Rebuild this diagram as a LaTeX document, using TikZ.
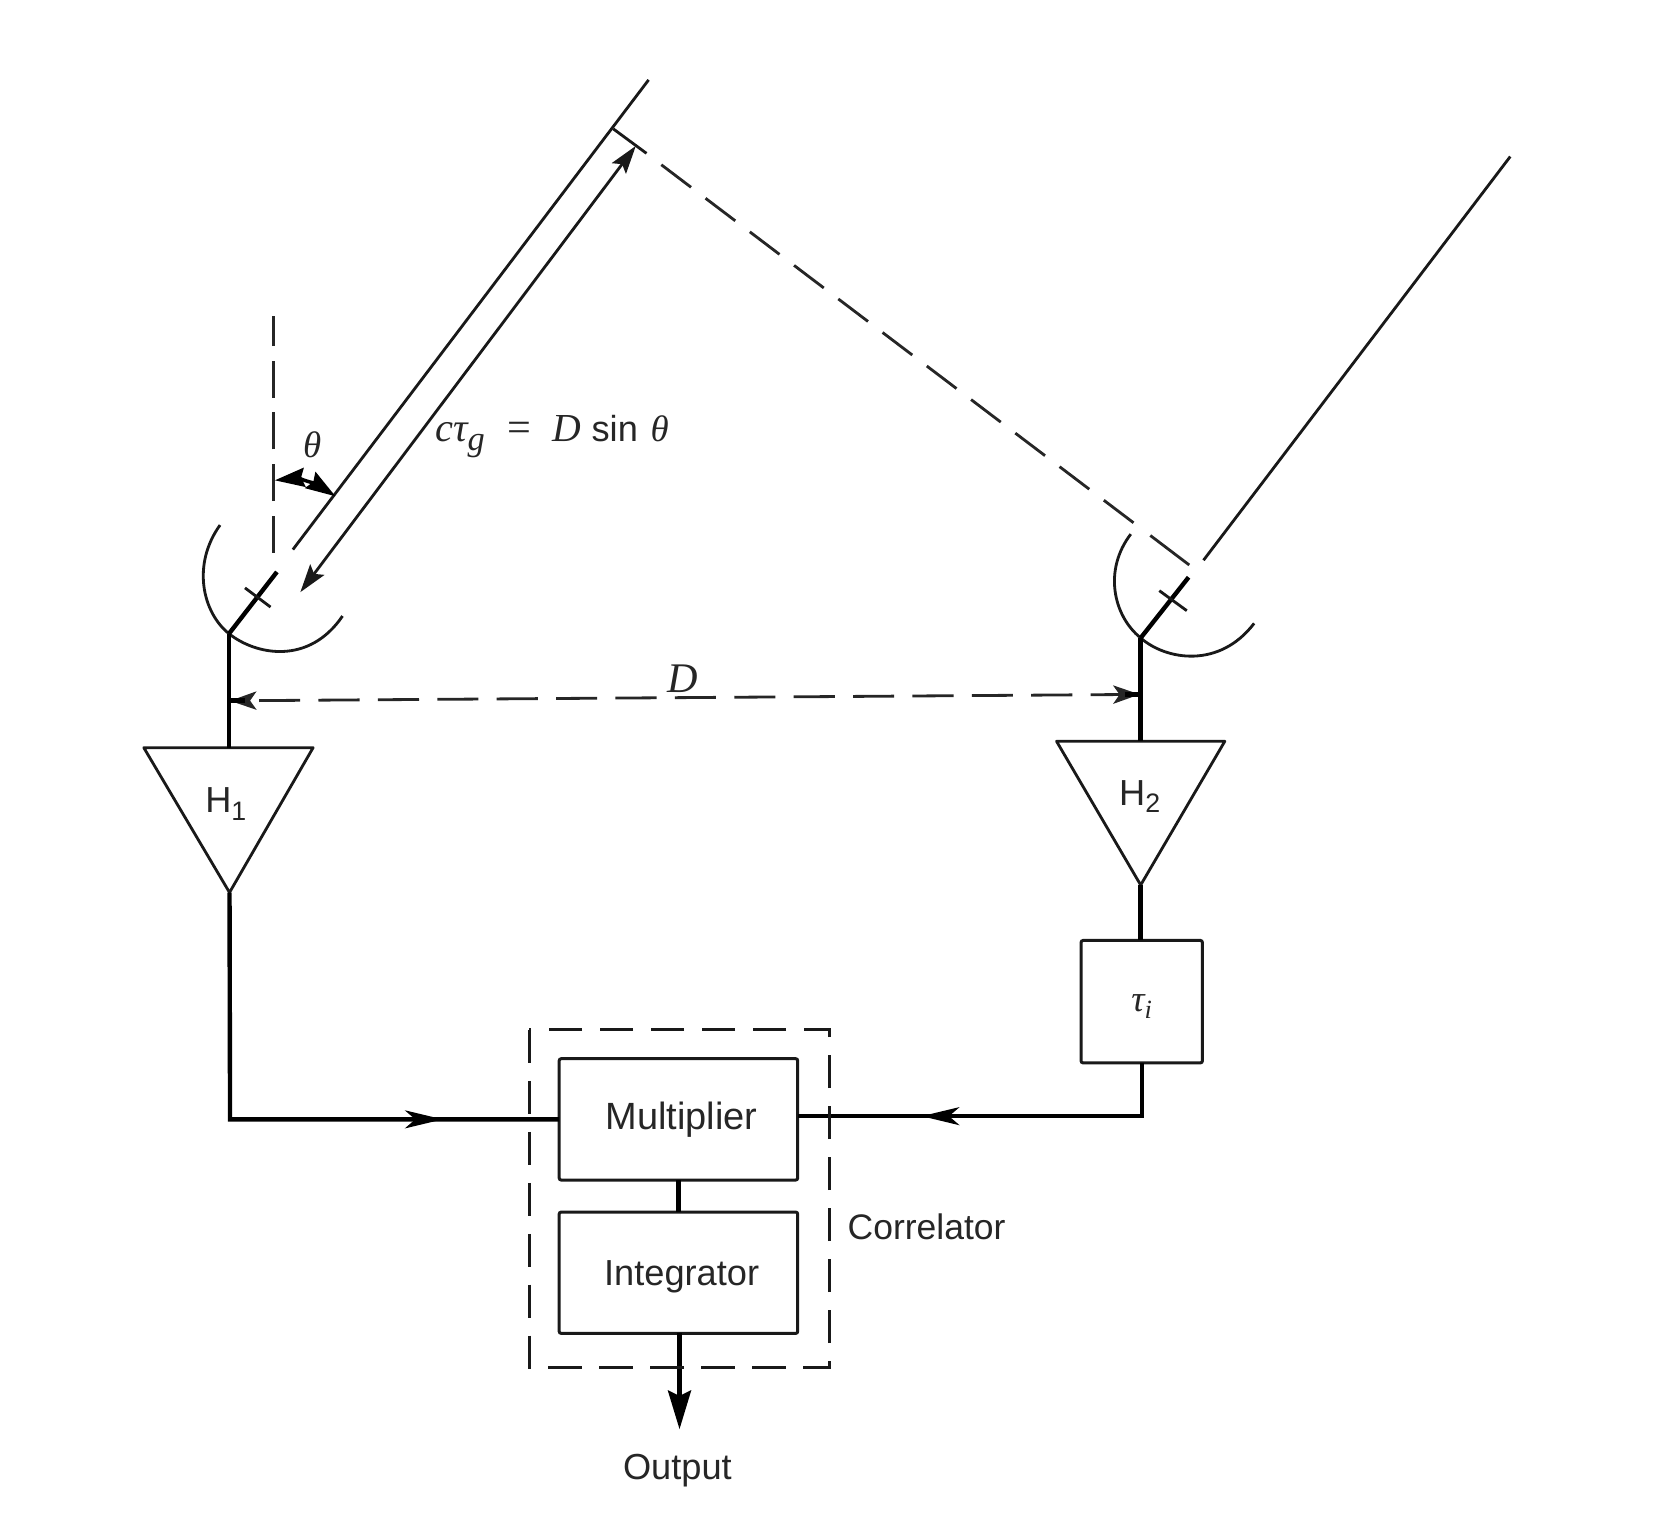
\documentclass[tikz,border=0pt]{standalone}
\usepackage{fontspec}
\setmainfont{Liberation Sans}
\newfontfamily\srf{Liberation Serif}
\usetikzlibrary{arrows.meta,calc}
\newcommand{\symit}[2]{{\srf\itshape\fontsize{#1}{12}\selectfont #2}}
\newcommand{\subsans}[1]{\raisebox{-2.2pt}{\fontsize{7.6}{8}\selectfont #1}}
\tikzset{
  thinl/.style={line width=0.8pt,draw=black!90},
  thickl/.style={line width=1.25pt,draw=black},
  boxdash/.style={line width=0.85pt,draw=black!90,dash pattern=on 9.5pt off 5pt},
  blockbox/.style={draw=black!90,line width=0.85pt,inner sep=0pt,outer sep=0pt,anchor=north west,rounded corners=0.6pt},
  lab/.style={font=\fontsize{10.3}{12}\selectfont,text=black!85,inner sep=0pt},
  dimtips/.style={{Stealth[length=7.5pt,width=5.2pt,inset=1.8pt]}-{Stealth[length=7.5pt,width=5.2pt,inset=1.8pt]}},
  tiptip/.style={{Stealth[length=8pt,width=5pt,inset=1.5pt]}-{Stealth[length=8pt,width=5pt,inset=1.5pt]}},
  angtips/.style={{Stealth[length=8.5pt,width=5.4pt,inset=1pt]}-{Stealth[length=8.5pt,width=5.4pt,inset=1pt]}},
  midtip/.style={line width=0.8pt,fill=black,draw=black},
}
\begin{document}
\begin{tikzpicture}[x=0.01065cm,y=-0.01065cm]
\useasboundingbox (0,0) rectangle (1568,1438.5);
% named points
\coordinate (b1top) at (609,75);
\coordinate (b1end) at (275,516);
\coordinate (f1top) at (260,537);
\coordinate (f1) at (215,595);
\coordinate (x1a) at (230,552);
\coordinate (x1b) at (254,570);
\coordinate (b2top) at (1418,147);
\coordinate (b2end) at (1130,526);
\coordinate (f2top) at (1116,542);
\coordinate (f2) at (1071,599);
\coordinate (x2a) at (1088.5,554.6);
\coordinate (x2b) at (1114.3,573.4);
\coordinate (corner) at (575.8,121);
\coordinate (wtick) at (607,144);
\coordinate (wfront) at (620,154);
\coordinate (wfar) at (1116.6,530.5);
\coordinate (vtop) at (257,297);
\coordinate (vbot) at (257,519);
\coordinate (arrA) at (597,137);
\coordinate (arrB) at (282,556);
\coordinate (angA) at (258,451);
\coordinate (angB) at (315,466);
\coordinate (dL) at (216,658);
\coordinate (dR) at (1070,652);
\coordinate (h1a) at (135,702);
\coordinate (h1b) at (294,702);
\coordinate (h1c) at (215.5,838);
\coordinate (h1m) at (215,702);
\coordinate (h2a) at (992,696);
\coordinate (h2b) at (1150,696);
\coordinate (h2c) at (1071,831);
\coordinate (h2m) at (1071,696);
\coordinate (lbend) at (216,1051);
\coordinate (rbend) at (1072,1048);
\coordinate (outend) at (638,1342);

% blocks
\node[blockbox,minimum width=1.214cm,minimum height=1.2248cm] (tau) at (1015,883) {};
\node[lab] (taul) at (1072,945) {\symit{10.5}{τ}\raisebox{-1.8pt}{\symit{7.5}{i}}};
\node[blockbox,minimum width=2.3856cm,minimum height=1.2141cm] (mult) at (525,994) {};
\node[blockbox,minimum width=2.3856cm,minimum height=1.2141cm] (integ) at (525,1138) {};
\node[lab,font=\fontsize{10.8}{12}\selectfont] (multl) at (640,1051) {Multiplier};
\node[lab] (integl) at (640,1199) {Integrator};
\node[lab,font=\fontsize{10.1}{12}\selectfont] (corr) at (870,1152) {Correlator};
\node[lab] (outl) at (636,1381) {Output};
\node[lab] (h1l) at (212,755) {H\subsans{1}};
\node[lab] (h2l) at (1070,748) {H\subsans{2}};
\node[lab] (dl) at (641,637) {\symit{12}{D}};
\node[lab] (thl) at (293,418) {\symit{10.5}{θ}};
\node[lab,anchor=base west] (form) at (408,415) {\symit{11.5}{cτ}\raisebox{-2.4pt}{\symit{9.8}{g}}\hspace{0.62em}{\srf\fontsize{12}{12}\selectfont =}\hspace{0.58em}\symit{11.3}{D}\hspace{0.3em}sin\hspace{0.35em}\symit{10.5}{θ}};

% beams
\draw[thinl] (b1top) -- (b1end);
\draw[thinl] (b2top) -- (b2end);
\draw[thinl] (corner) -- (wtick);
\draw[line width=0.8pt,draw=black!85,dash pattern=on 13.9pt off 6pt on 10.6pt off 5.2pt on 10.6pt off 5.2pt on 10.6pt off 5.2pt on 10.6pt off 5.2pt on 10.6pt off 5.2pt on 10.6pt off 5.2pt on 10.6pt off 5.2pt on 10.6pt off 5.2pt on 10.6pt off 5.2pt on 10.6pt off 5.2pt on 10.6pt off 20pt] (wfar) -- (wfront);
\draw[line width=0.8pt,draw=black!85,dash pattern=on 10.6pt off 4.1pt] (vbot) -- (vtop);
\draw[thinl,tiptip] (arrA) -- (arrB);
\draw[line width=1pt,angtips] (angA) .. controls (278,449) and (298,455) .. (angB);

% dishes
\draw[thinl] (206.6,493) .. controls (180,530) and (190,575) .. (f1) .. controls (240,615) and (290,625) .. (321.6,578.4);
\draw[thinl] (1061.7,501.5) .. controls (1036,535) and (1045,578) .. (f2) .. controls (1095,620) and (1145,628) .. (1177.5,585.3);
\draw[thickl] (f1top) -- (f1);
\draw[thickl] (f2top) -- (f2);
\draw[thinl] (x1a) -- (x1b);
\draw[thinl] (x2a) -- (x2b);

% baseline
\draw[line width=0.8pt,draw=black!85,dash pattern=on 11.7pt off 5.2pt,dash phase=14.05pt,dimtips] (dL) -- (dR);
\draw[line width=1.5pt] (dL) -- ++(14,0);
\draw[line width=1.5pt] (dR) -- ++(-14,0);

% amplifiers
\draw[thinl,line join=round] (h1a) -- (h1b) -- (h1c) -- cycle;
\draw[thinl,line join=round] (h2a) -- (h2b) -- (h2c) -- cycle;
\draw[thickl] (f1) -- (h1m);
\draw[thickl] (f2) -- (h2m);
\draw[thickl] (h2c) -- (tau.north -| h2c);

% signal lines
\draw[thickl] (h1c) -- (lbend) -- (lbend -| mult.west);
\draw[thickl] (tau.south -| rbend) -- (rbend) -- (rbend -| mult.east);
\draw[midtip] (410,1051) -- (385,1045) -- (392,1051) -- (385,1057) -- cycle;
\draw[midtip] (871,1048) -- (896,1042) -- (889,1048) -- (896,1054) -- cycle;
\draw[thickl] (mult.south -| 637,0) -- (integ.north -| 637,0);
\draw[line width=1.4pt,-{Stealth[length=11pt,width=6.5pt,inset=1.5pt]}] (integ.south -| outend) -- (outend);

% correlator outline
\draw[boxdash] (497,967) rectangle (779,1284);
\end{tikzpicture}
\end{document}
